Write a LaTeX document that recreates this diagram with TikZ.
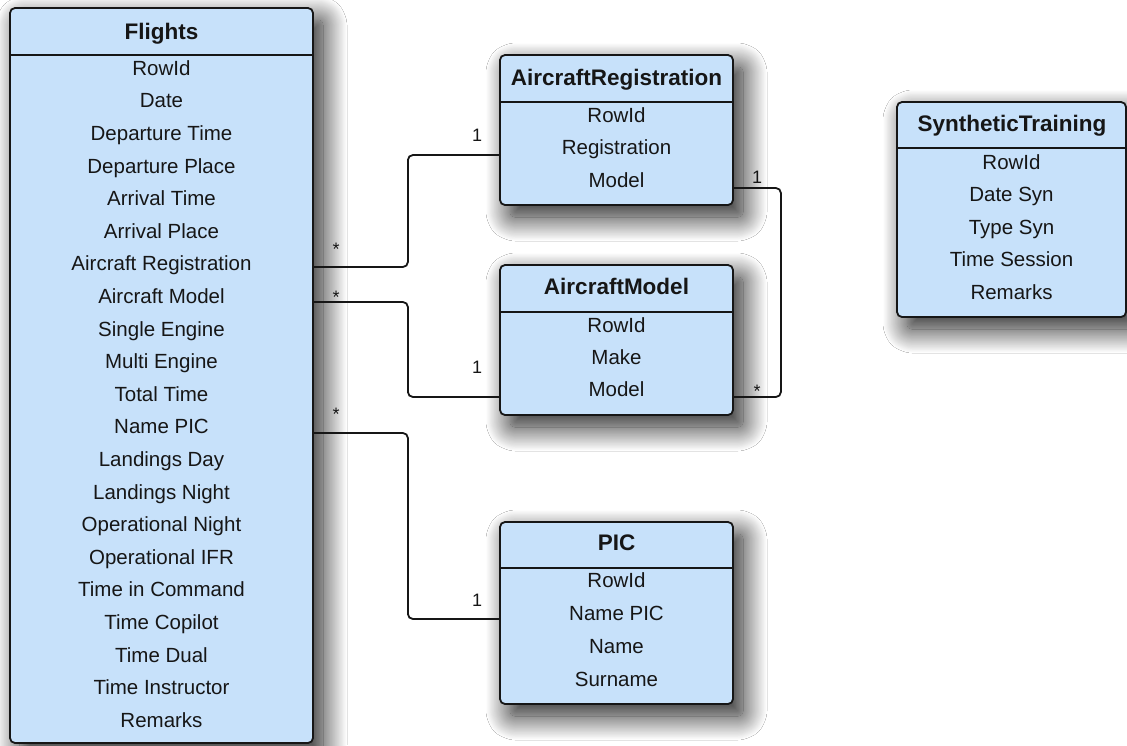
\documentclass[tikz,border=0pt]{standalone}
\usepackage{fontspec}
\setmainfont{Liberation Sans}
\usetikzlibrary{shadows.blur}
\definecolor{tfill}{RGB}{199,225,250}
\definecolor{tline}{RGB}{22,22,22}
\tikzset{
  tbl/.style={draw=tline, line width=1.8pt, fill=tfill, rounded corners=5pt,
    rectangle, inner sep=0pt,
    blur shadow={shadow xshift=10pt, shadow yshift=-12pt, shadow blur radius=24pt, shadow blur steps=30, shadow opacity=90}},
  hdr/.style={font=\fontsize{22.5}{26}\selectfont\bfseries, text=tline, text height=16.1pt, text depth=0pt, inner sep=0pt},
  row/.style={font=\fontsize{20.5}{24}\selectfont, text=tline, text height=14.7pt, text depth=0pt, inner sep=0pt},
  sepline/.style={draw=tline, line width=1.8pt},
  conn/.style={draw=tline, line width=1.8pt, rounded corners=5pt},
  card/.style={font=\fontsize{18}{21}\selectfont, text=tline, inner sep=0pt},
}
\begin{document}
\begin{tikzpicture}[x=1pt,y=-1pt]
\fill[white] (0,0) rectangle (1127,745);
\useasboundingbox (0,0) rectangle (1127,745);

% Flights
\node[tbl, minimum width=303pt, minimum height=735pt] (flights) at (161.5,375.5) {};
\draw[sepline] (flights.west |- 0,55) -- (flights.east |- 0,55);
\node[hdr] (flightsH) at (161.5,31) {Flights};
\foreach \t [count=\i from 0] in {RowId, Date, Departure Time, Departure Place, Arrival Time, Arrival Place, Aircraft Registration, Aircraft Model, Single Engine, Multi Engine, Total Time, Name PIC, Landings Day, Landings Night, Operational Night, Operational IFR, Time in Command, Time Copilot, Time Dual, Time Instructor, Remarks}
  \node[row] (f\i) at (161.5, 68+\i*32.6) {\t};

% AircraftRegistration
\node[tbl, minimum width=233pt, minimum height=150pt] (areg) at (616.5,130) {};
\draw[sepline] (areg.west |- 0,102) -- (areg.east |- 0,102);
\node[hdr] (aregH) at (616.5,77) {AircraftRegistration};
\foreach \t [count=\i from 0] in {RowId, Registration, Model}
  \node[row] (ar\i) at (616.5, 115+\i*32.5) {\t};

% AircraftModel
\node[tbl, minimum width=233pt, minimum height=150pt] (amod) at (616.5,340) {};
\draw[sepline] (amod.west |- 0,312) -- (amod.east |- 0,312);
\node[hdr] (amodH) at (616.5,286) {AircraftModel};
\foreach \t [count=\i from 0] in {RowId, Make, Model}
  \node[row] (am\i) at (616.5, 325+\i*32.3) {\t};

% PIC
\node[tbl, minimum width=233pt, minimum height=182pt] (pic) at (616.5,613) {};
\draw[sepline] (pic.west |- 0,568) -- (pic.east |- 0,568);
\node[hdr] (picH) at (616.5,542) {PIC};
\foreach \t [count=\i from 0] in {RowId, Name PIC, Name, Surname}
  \node[row] (p\i) at (616.5, 580+\i*33) {\t};

% SyntheticTraining
\node[tbl, minimum width=229pt, minimum height=215pt] (syn) at (1011.5,209.5) {};
\draw[sepline] (syn.west |- 0,148) -- (syn.east |- 0,148);
\node[hdr] (synH) at (1012,123) {SyntheticTraining};
\foreach \t [count=\i from 0] in {RowId, Date Syn, Type Syn, Time Session, Remarks}
  \node[row] (s\i) at (1011.5, 162+\i*32.5) {\t};

% connectors
\draw[conn] (flights.east |- 0,267) -- ++(94,0) |- (areg.west |- 0,155);
\draw[conn] (flights.east |- 0,302) -- ++(94,0) |- (amod.west |- 0,397);
\draw[conn] (flights.east |- 0,433) -- ++(94,0) |- (pic.west |- 0,619);
\draw[conn] (areg.east |- 0,188) -- ++(47,0) |- (amod.east |- 0,397);

% cardinalities
\node[card] (c1) at (477,135) {1};
\node[card] (c2) at (336,249) {*};
\node[card] (c3) at (336,297) {*};
\node[card] (c4) at (477,367) {1};
\node[card] (c5) at (336,414) {*};
\node[card] (c6) at (477,600) {1};
\node[card] (c7) at (757,177) {1};
\node[card] (c8) at (757,391) {*};
\end{tikzpicture}
\end{document}
